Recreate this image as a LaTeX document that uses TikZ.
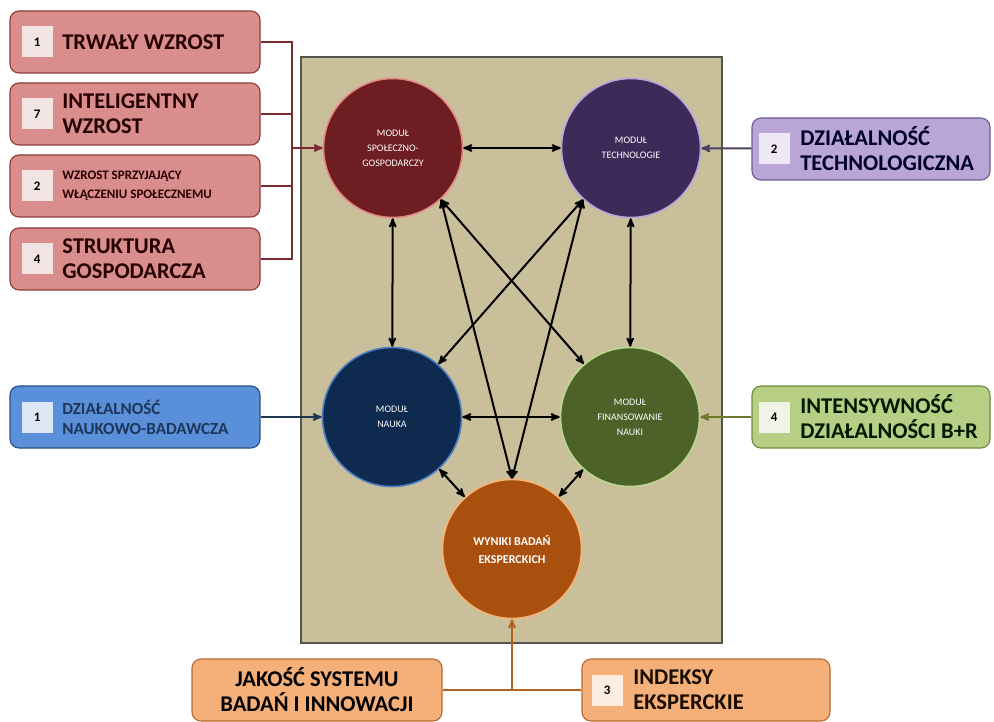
\documentclass[tikz,border=0pt]{standalone}
\usepackage{fontspec}
\setmainfont{Carlito}
\usepackage{tikz}
\usetikzlibrary{arrows}
\usetikzlibrary{positioning}

\definecolor{panelfill}{HTML}{C9C09B}
\definecolor{paneledge}{HTML}{55554A}
\definecolor{sgred}{HTML}{6E1E22}
\definecolor{sgedge}{HTML}{E58A84}
\definecolor{tepurple}{HTML}{3D2A58}
\definecolor{teedge}{HTML}{B9A6DE}
\definecolor{nablue}{HTML}{0E2A4E}
\definecolor{naedge}{HTML}{4F7EC4}
\definecolor{figreen}{HTML}{4C6228}
\definecolor{fiedge}{HTML}{BCD890}
\definecolor{wyorange}{HTML}{A9500F}
\definecolor{wyedge}{HTML}{F6B576}

\definecolor{redfill}{HTML}{D98D8D}
\definecolor{rededge}{HTML}{8E3A3A}
\definecolor{redpale}{HTML}{F3E4E4}
\definecolor{redline}{HTML}{7A2A2C}
\definecolor{purfill}{HTML}{B9A5D6}
\definecolor{puredge}{HTML}{6E5C8E}
\definecolor{purpale}{HTML}{EEE8F5}
\definecolor{purline}{HTML}{4E4060}
\definecolor{blufill}{HTML}{5A8FDA}
\definecolor{bluedge}{HTML}{2A4F82}
\definecolor{blupale}{HTML}{DCE6F5}
\definecolor{bluline}{HTML}{1E3550}
\definecolor{grnfill}{HTML}{B6CF84}
\definecolor{grnedge}{HTML}{6F8A3C}
\definecolor{grnpale}{HTML}{F0F4E6}
\definecolor{grnline}{HTML}{6A7A2E}
\definecolor{orafill}{HTML}{F5B07A}
\definecolor{oraedge}{HTML}{BA682C}
\definecolor{orapale}{HTML}{FCEDE0}
\definecolor{oraline}{HTML}{B3621F}

\tikzstyle{panel} =
[
	draw=paneledge,rectangle,line width=1.6pt,fill=panelfill,
	minimum width=421pt, minimum height=586pt
]
\tikzstyle{modul} =
[
	draw,circle,line width=1.6pt,inner sep=0pt,minimum size=139pt,
	text=white,align=center,font=\fontsize{10}{15}\selectfont
]
\tikzstyle{factor} =
[
	draw,rectangle,rounded corners=9pt,line width=1.1pt,
	minimum width=250pt, minimum height=62pt
]
\tikzstyle{numbox} =
[
	rectangle,inner sep=0pt,minimum size=31pt,
	font=\bfseries\fontsize{13}{13}\selectfont
]
\tikzstyle{bigtext} = [align=left,inner sep=0pt,font=\bfseries\fontsize{22.5}{25}\selectfont]
\tikzstyle{smalltext} = [align=left,inner sep=0pt,font=\bfseries\fontsize{13}{19}\selectfont]
\tikzstyle{link} = [<->,line width=2pt,black]
\tikzstyle{feed} = [line width=2pt]

\begin{document}
\begin{tikzpicture}[x=1pt,y=-1pt,>=stealth',semithick]
\useasboundingbox (0,0) rectangle (994,722);

% panel z modulami
\node[panel] (P) at (511.5,350) {};

\node[modul, fill=sgred, draw=sgedge] (SG) at (393,148) {MODUŁ\\SPOŁECZNO-\\GOSPODARCZY};
\node[modul, fill=tepurple, draw=teedge] (TE) at (631,148) {MODUŁ\\TECHNOLOGIE};
\node[modul, fill=nablue, draw=naedge] (NA) at (392,417) {MODUŁ\\NAUKA};
\node[modul, fill=figreen, draw=fiedge] (FI) at (630,417) {MODUŁ\\FINANSOWANIE\\NAUKI};
\node[modul, fill=wyorange, draw=wyedge, font=\bfseries\fontsize{12}{18}\selectfont] (WY) at (512,549) {WYNIKI BADAŃ\\EKSPERCKICH};

\path[link]
	(SG) edge (TE)
	(SG) edge (NA)
	(TE) edge (FI)
	(NA) edge (FI)
	(SG.-47) edge (FI)
	(TE.-133) edge (NA)
	(SG.-47) edge (WY.north)
	(TE.-133) edge (WY.north)
	(NA) edge (WY)
	(FI) edge (WY);

% czynniki po lewej
\node[factor, fill=redfill, draw=rededge] (T1) at (135,42) {};
\node[factor, fill=redfill, draw=rededge] (T7) at (135,114) {};
\node[factor, fill=redfill, draw=rededge] (T2) at (135,186) {};
\node[factor, fill=redfill, draw=rededge] (T4) at (135,259) {};
\node[numbox, fill=redpale, right=12pt of T1.west] (N1) {1};
\node[numbox, fill=redpale, right=12pt of T7.west] (N7) {7};
\node[numbox, fill=redpale, right=12pt of T2.west] (N2) {2};
\node[numbox, fill=redpale, right=12pt of T4.west] (N4) {4};
\node[bigtext, text=black!85!red, right=9pt of N1.east] {TRWAŁY WZROST};
\node[bigtext, text=black!85!red, right=9pt of N7.east] {INTELIGENTNY\\WZROST};
\node[smalltext, text=black!85!red, right=9pt of N2.east] {WZROST SPRZYJAJĄCY\\WŁĄCZENIU SPOŁECZNEMU};
\node[bigtext, text=black!85!red, right=9pt of N4.east] {STRUKTURA\\GOSPODARCZA};

\coordinate (bus) at (291,148);
\draw[feed, redline] (T1.east) -- ++(31,0) |- (T4.east);
\draw[feed, redline] (T7.east) -- ++(31,0);
\draw[feed, redline] (T2.east) -- ++(31,0);
\draw[feed, redline, ->] (bus) -- (SG);

\node[factor, fill=blufill, draw=bluedge] (DN) at (135,417) {};
\node[numbox, fill=blupale, right=12pt of DN.west] (NB) {1};
\node[bigtext, text=bluedge!70!black, font=\bfseries\fontsize{17}{20}\selectfont, right=9pt of NB.east] {DZIAŁALNOŚĆ\\NAUKOWO-BADAWCZA};
\draw[feed, bluline, ->] (DN) -- (NA);

% czynniki po prawej
\node[factor, fill=purfill, draw=puredge, minimum width=238pt] (DT) at (871,149) {};
\node[numbox, fill=purpale, right=7pt of DT.west] (NT) {2};
\node[bigtext, text=black!85!blue, right=10pt of NT.east] {DZIAŁALNOŚĆ\\TECHNOLOGICZNA};
\draw[feed, purline, ->] (DT) -- (TE);

\node[factor, fill=grnfill, draw=grnedge, minimum width=238pt] (IB) at (871,417) {};
\node[numbox, fill=grnpale, right=7pt of IB.west] (NG) {4};
\node[bigtext, text=black!90!green, right=10pt of NG.east] {INTENSYWNOŚĆ\\DZIAŁALNOŚCI B+R};
\draw[feed, grnline, ->] (IB) -- (FI);

% czynniki na dole
\node[factor, fill=orafill, draw=oraedge, bigtext, align=center, inner sep=0pt] (JS) at (317,690) {JAKOŚĆ SYSTEMU\\BADAŃ I INNOWACJI};
\node[factor, fill=orafill, draw=oraedge, minimum width=248pt] (IE) at (706,690) {};
\node[numbox, fill=orapale, right=10pt of IE.west] (NO) {3};
\node[bigtext, text=black!90!orange, right=10pt of NO.east] {INDEKSY\\EKSPERCKIE};

\coordinate (J) at (JS.east -| WY.south);
\draw[feed, oraline] (JS) -- (IE);
\draw[feed, oraline, ->] (J) -- (WY.south);

\end{tikzpicture}
\end{document}
